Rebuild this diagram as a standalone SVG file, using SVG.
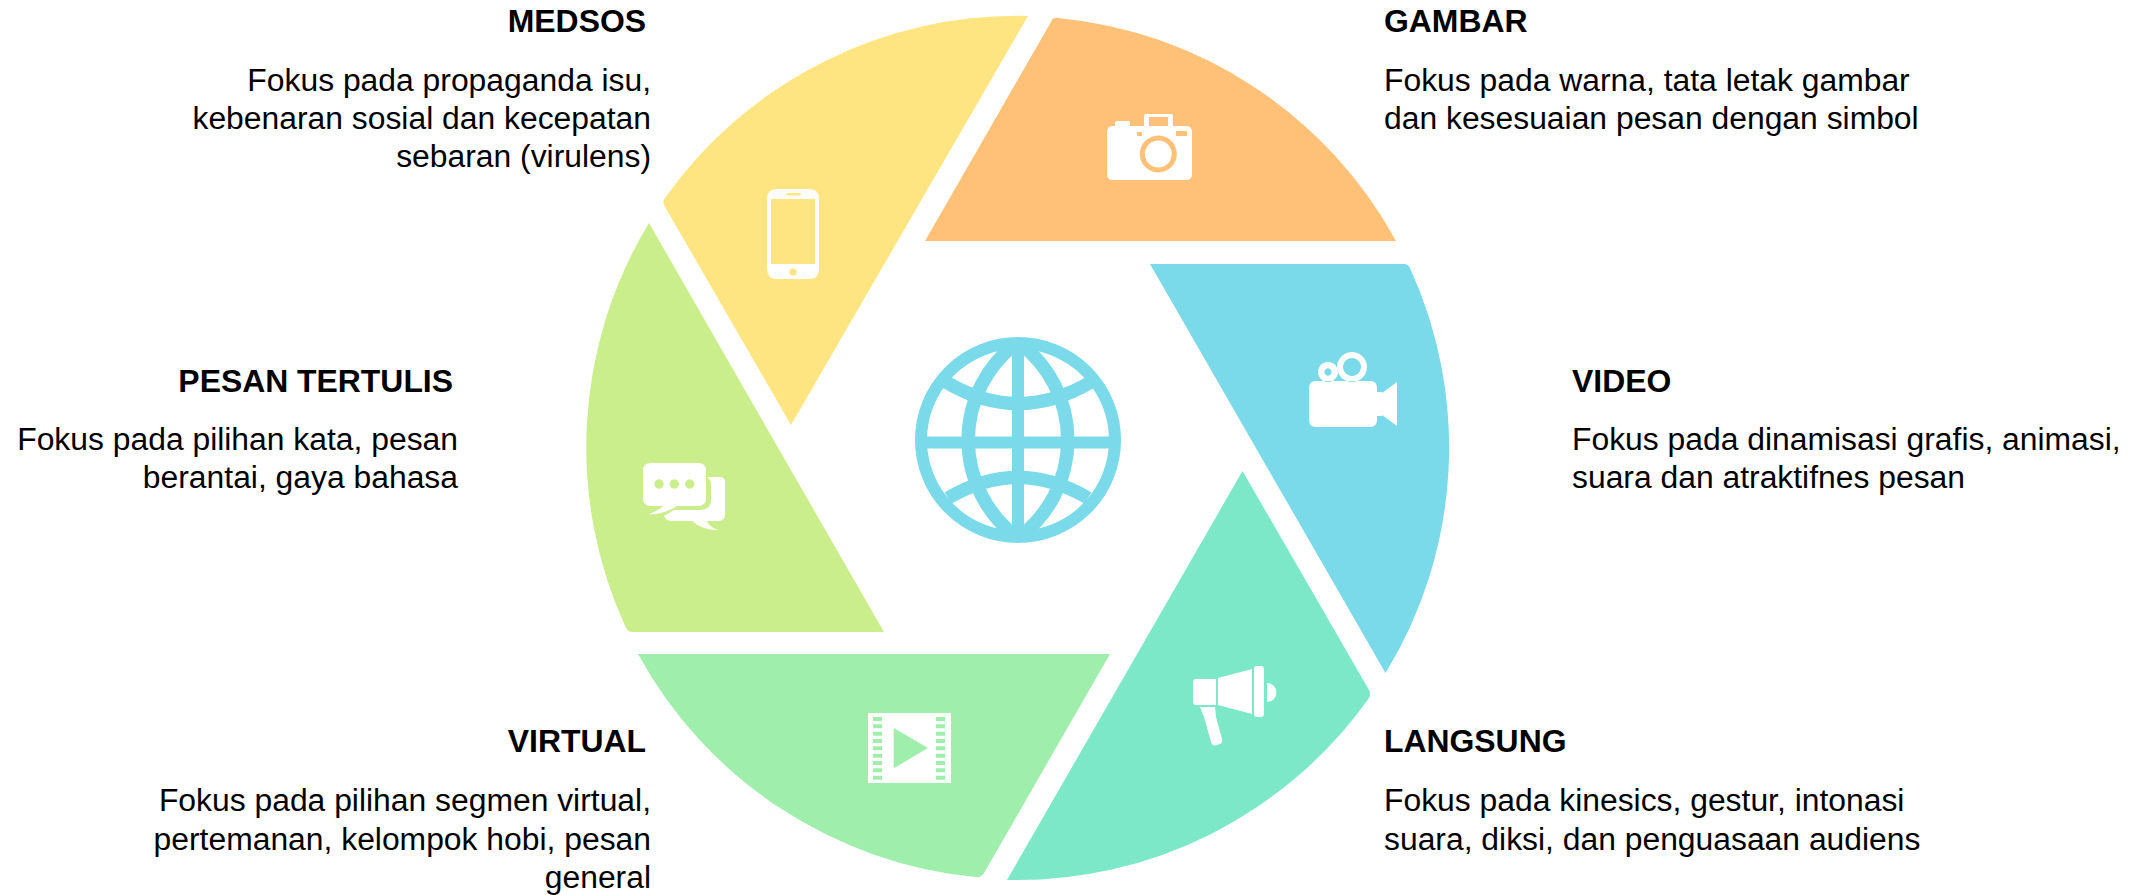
<svg xmlns="http://www.w3.org/2000/svg" width="2151" height="895" viewBox="0 0 2151 895">
<style>
text{font-family:"Liberation Sans",Arial,sans-serif;fill:#000}
.h{font-size:31.9px;font-weight:700}
.b{font-size:31.85px}
.e{text-anchor:end}
.w{fill:#fff}
.g{fill:none;stroke:#7ADAE9;stroke-width:12}
.m{fill:none;stroke:#7ADAE9;stroke-width:13.5}
</style>
<rect width="2151" height="895" fill="#fff"/>
<g id="medsos">
<path fill="#FEE581" d="M1028,16L791,425L664.5,206Q662,202 665,198A431.5,431.5 0 0 1 1028,16Z"/>
<path class="w" fill-rule="evenodd" d="M777,189H809Q819,189 819,199V269Q819,279 809,279H777Q767,279 767,269V199Q767,189 777,189ZM771,199V264H815V199ZM788,193Q786,193 786,194.2T788,195.5H799Q801,195.5 801,194.2T799,193ZM793,268.3A3.7,3.7 0 1 0 793.01,268.3Z"/>
<text class="h e" x="646" y="32">MEDSOS</text>
<text class="b e" x="651" y="91">Fokus pada propaganda isu,</text>
<text class="b e" x="651" y="129">kebenaran sosial dan kecepatan</text>
<text class="b e" x="651" y="167">sebaran (virulens)</text>
</g>
<g id="gambar">
<path fill="#FFC078" d="M1051,22Q1053,17 1058,18A431.5,431.5 0 0 1 1396,241H925Z"/>
<path class="w" fill-rule="evenodd" d="M1115,126V123Q1115,121 1117,121H1128Q1130,121 1130,123V126H1144V116Q1144,114 1146,114H1171Q1173,114 1173,116V126H1186Q1192,126 1192,132V174Q1192,180 1186,180H1113Q1107,180 1107,174V132Q1107,126 1113,126ZM1149,117V126H1168V117ZM1137,132V136H1142V132ZM1176,131V136H1187V131ZM1158.3,135.5A18.5,18.5 0 1 0 1158.31,135.5ZM1158.3,140.5A13.5,13.5 0 1 1 1158.29,140.5Z"/>
<text class="h" x="1384" y="32">GAMBAR</text>
<text class="b" x="1384" y="91">Fokus pada warna, tata letak gambar</text>
<text class="b" x="1384" y="129">dan kesesuaian pesan dengan simbol</text>
</g>
<g id="video">
<path fill="#7ADAE9" d="M1150,264H1404Q1408,264 1410,268A431.5,431.5 0 0 1 1385.5,673Z"/>
<path class="w" fill-rule="evenodd" d="M1316,381H1370Q1377,381 1377,388V392H1382V393L1397,382V426L1382,415V416H1377V420Q1377,427 1370,427H1316Q1309,427 1309,420V388Q1309,381 1316,381ZM1352,352A15,15 0 1 0 1352.01,352ZM1352,358A9,9 0 1 1 1351.99,358ZM1328,362A10,10 0 1 0 1328.01,362ZM1328,368.3A3.7,3.7 0 1 1 1327.99,368.3Z"/>
<text class="h" x="1572" y="392">VIDEO</text>
<text class="b" x="1572" y="450">Fokus pada dinamisasi grafis, animasi,</text>
<text class="b" x="1572" y="488">suara dan atraktifnes pesan</text>
</g>
<g id="langsung">
<path fill="#7CE8C8" d="M1242.5,471L1369,690Q1371,694 1369,698A431.5,431.5 0 0 1 1007,880Z"/>
<path class="w" d="M1196,679H1216V705H1196Q1193,705 1193,702V682Q1193,679 1196,679ZM1218,678L1252,669V714L1218,705ZM1257,666H1261Q1264,666 1264,669V714Q1264,717 1261,717H1257Q1254,717 1254,714V669Q1254,666 1257,666ZM1267,683A9.5,9.5 0 0 1 1267,702ZM1200,707H1215L1216,717L1222,739Q1223,743 1220,744L1215,745.5Q1212,746 1211,742L1204,717Z"/>
<text class="h" x="1384" y="752">LANGSUNG</text>
<text class="b" x="1384" y="811">Fokus pada kinesics, gestur, intonasi</text>
<text class="b" x="1384" y="850">suara, diksi, dan penguasaan audiens</text>
</g>
<g id="virtual">
<path fill="#9FEEAB" d="M638,654H1110L984,873Q981,878 976,877A431.5,431.5 0 0 1 638,654Z"/>
<path class="w" fill-rule="evenodd" d="M868,713H951V783H868ZM893.7,728V768.3L928,748ZM873,717v4h9v-4zM873,724.3v4h9v-4zM873,731.7v4h9v-4zM873,739v4h9v-4zM873,746.3v4h9v-4zM873,753.7v4h9v-4zM873,761v4h9v-4zM873,768.3v4h9v-4zM873,775.7v4h9v-4zM936,717v4h9v-4zM936,724.3v4h9v-4zM936,731.7v4h9v-4zM936,739v4h9v-4zM936,746.3v4h9v-4zM936,753.7v4h9v-4zM936,761v4h9v-4zM936,768.3v4h9v-4zM936,775.7v4h9v-4z"/>
<text class="h e" x="646" y="752">VIRTUAL</text>
<text class="b e" x="651" y="811">Fokus pada pilihan segmen virtual,</text>
<text class="b e" x="651" y="850">pertemanan, kelompok hobi, pesan</text>
<text class="b e" x="651" y="888">general</text>
</g>
<g id="pesan-tertulis">
<path fill="#CBEE8C" d="M649,223L884,632H632Q628,632 626,628A431.5,431.5 0 0 1 649,223Z"/>
<path class="w" fill-rule="evenodd" d="M651,463H698Q706,463 706,471V498Q706,506 698,506H677Q665,514 648,514.5Q658,511 663,506H651Q643,506 643,498V471Q643,463 651,463ZM659,479.3A4.7,4.7 0 1 0 659.01,479.3ZM674.3,479.3A4.7,4.7 0 1 0 674.31,479.3ZM689.7,479.3A4.7,4.7 0 1 0 689.71,479.3Z"/>
<path class="w" d="M707,477H720Q725,477 725,482V514Q725,521 719,521H707Q709,527 718,530Q702,530 692,521H672Q666,521 664,516L674,510H700Q711,510 711,499V484Q711,480 707,477Z"/>
<text class="h e" x="453" y="392">PESAN TERTULIS</text>
<text class="b e" x="458" y="450">Fokus pada pilihan kata, pesan</text>
<text class="b e" x="458" y="488">berantai, gaya bahasa</text>
</g>
<g id="globe">
<circle class="g" cx="1018" cy="440" r="97"/>
<path class="g" d="M1018,343V537M921,442.5H1115"/>
<path class="m" d="M1014,345A121.5,121.5 0 0 0 1014,535M1022,345A121.5,121.5 0 0 1 1022,535M946,382Q1018,425 1091,382M948,498Q1018,457 1088,498"/>
</g>
</svg>
